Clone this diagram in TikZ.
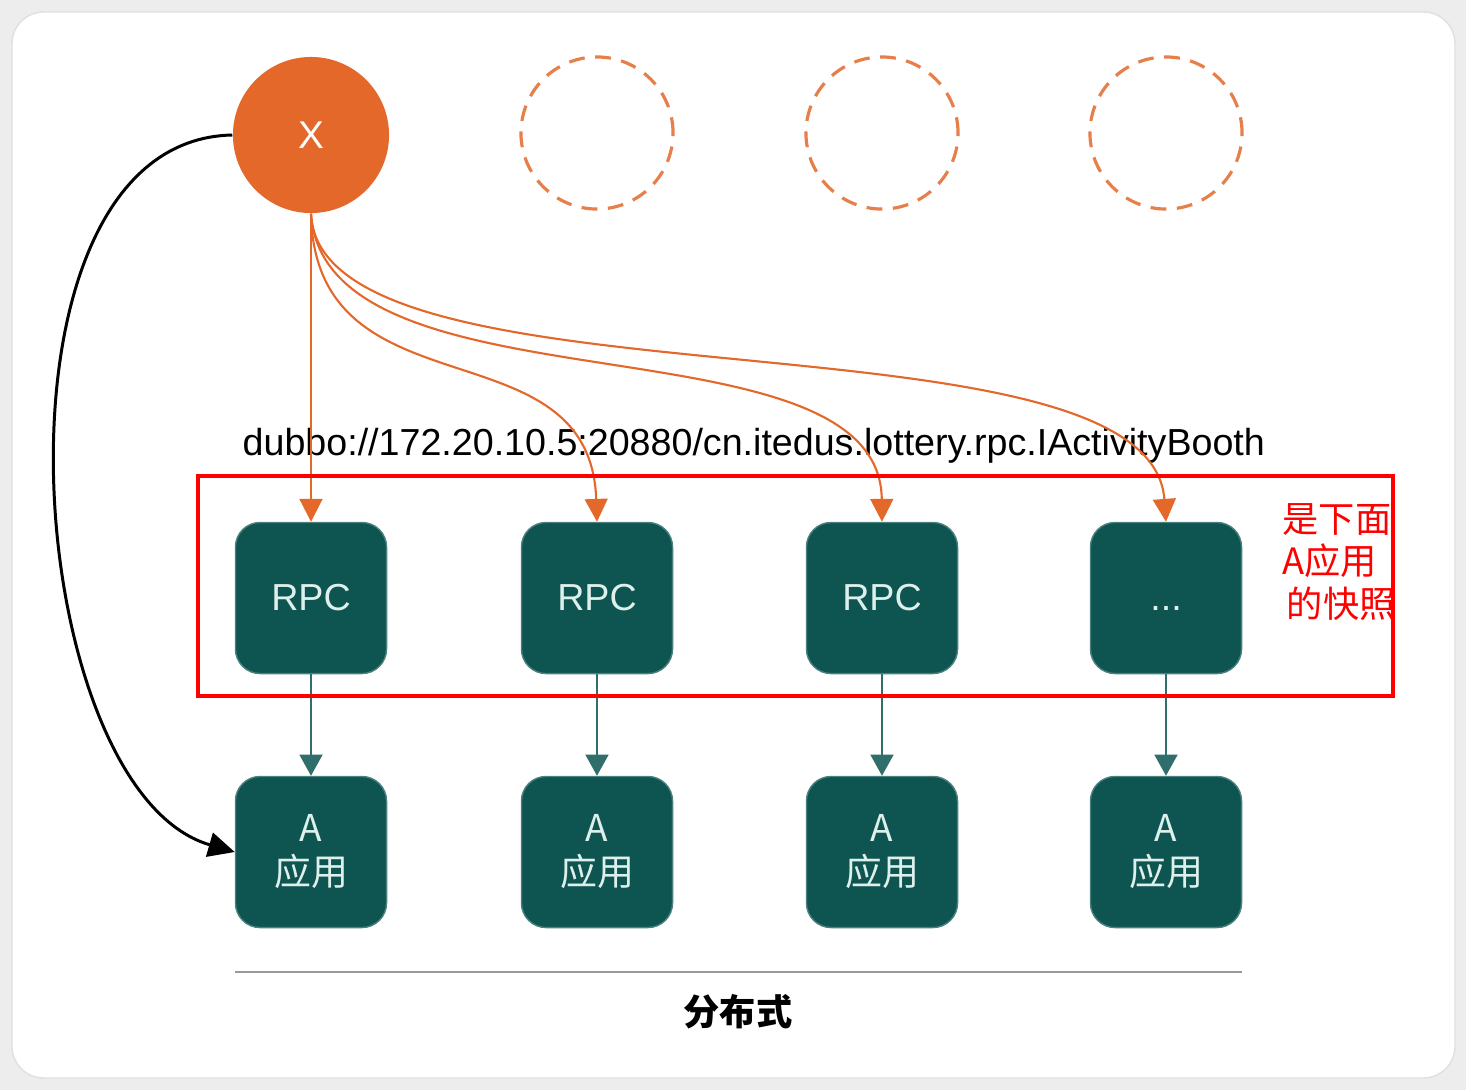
\documentclass[tikz,border=0pt]{standalone}
\usepackage{fontspec}
\setmainfont{Liberation Sans}
\newfontfamily\cjk{Noto Sans CJK SC}
\usetikzlibrary{arrows.meta}
\definecolor{xorange}{HTML}{E3682A}
\definecolor{boxteal}{HTML}{0E5552}
\definecolor{boxtext}{HTML}{DDF0EC}
\definecolor{linkteal}{HTML}{2F6E6B}
\begin{document}
\begin{tikzpicture}[x=0.01cm,y=-0.01cm,
    callarrow/.style={draw=xorange, line width=0.6pt, -{Triangle[length=6.5pt,width=6.5pt]}},
    boxarrow/.style={draw=linkteal, line width=0.6pt, -{Triangle[length=6pt,width=6.5pt]}},
    tealbox/.style={fill=boxteal, draw=boxteal!75!white, rounded corners=7pt, minimum size=1.51cm, inner sep=0pt, text=boxtext},
    ghost/.style={circle, draw=xorange!85!white, line width=0.9pt, dash pattern=on 4.5pt off 3pt, minimum size=1.52cm, inner sep=0pt}]
    \useasboundingbox (0,0) rectangle (1466,1090);
    \fill[black!7] (0,0) rectangle (1466,1090);
    \draw[black!12, fill=white, rounded corners=9pt] (12,12) rectangle (1455,1078);

    % caller and empty slots
    \node[circle, fill=xorange, minimum size=1.56cm, inner sep=0pt, text=white, font=\fontsize{11}{13}\selectfont] (x) at (311,135) {X};
    \node[ghost] (slot2) at (597,133) {};
    \node[ghost] (slot3) at (882,133) {};
    \node[ghost] (slot4) at (1166,133) {};

    % rpc row
    \node[tealbox, font=\fontsize{10.7}{12}\selectfont] (rpc1) at (311,598) {RPC};
    \node[tealbox, font=\fontsize{10.7}{12}\selectfont] (rpc2) at (597,598) {RPC};
    \node[tealbox, font=\fontsize{10.7}{12}\selectfont] (rpc3) at (882,598) {RPC};
    \node[tealbox, font=\fontsize{10.7}{12}\selectfont] (rpc4) at (1166,598) {\vphantom{RPC}...};

    % app row
    \node[tealbox, align=center, font=\cjk\fontsize{10.5}{12.5}\selectfont] (app1) at (311,852) {A\\应用};
    \node[tealbox, align=center, font=\cjk\fontsize{10.5}{12.5}\selectfont] (app2) at (597,852) {A\\应用};
    \node[tealbox, align=center, font=\cjk\fontsize{10.5}{12.5}\selectfont] (app3) at (882,852) {A\\应用};
    \node[tealbox, align=center, font=\cjk\fontsize{10.5}{12.5}\selectfont] (app4) at (1166,852) {A\\应用};

    \node[anchor=base west, inner sep=0pt, font=\fontsize{10.7}{12}\selectfont] (url) at (242,455) {dubbo://172.20.10.5:20880/cn.itedus.lottery.rpc.IActivityBooth};

    % calls
    \draw[callarrow] (x.south) -- (rpc1.north);
    \draw[callarrow] (x.south) .. controls (315,420) and (590,320) .. (rpc2.north);
    \draw[callarrow] (x.south) .. controls (325,420) and (880,310) .. (rpc3.north);
    \draw[callarrow] (x.south) .. controls (320,420) and (1150,300) .. (rpc4.north);
    \draw[line width=0.85pt, -{Triangle[length=7.5pt,width=7pt]}] (x.west) .. controls (-25,140) and (20,790) .. (app1.west);

    \draw[boxarrow] (rpc1.south) -- (app1.north);
    \draw[boxarrow] (rpc2.south) -- (app2.north);
    \draw[boxarrow] (rpc3.south) -- (app3.north);
    \draw[boxarrow] (rpc4.south) -- (app4.north);

    % snapshot mark
    \draw[red, line width=1.1pt] (198,476) rectangle (1393,696);
    \node[anchor=north west, align=left, inner sep=0pt, text=red, font=\cjk\fontsize{10.3}{12}\selectfont] (note) at (1282,503) {是下面\\A应用\\\hspace*{1.2pt}的快照};

    \draw[black!40, line width=0.8pt] (235,972) -- (1242,972);
    \node[font=\cjk\bfseries\fontsize{10.3}{12}\selectfont] (dist) at (738,1012) {分布式};
\end{tikzpicture}
\end{document}
